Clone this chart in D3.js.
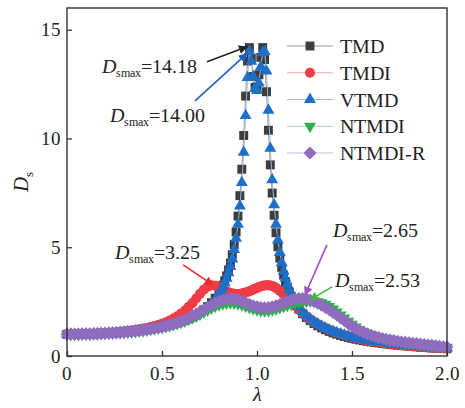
<!DOCTYPE html>
<html>
<head>
<meta charset="utf-8">
<script src="https://cdn.jsdelivr.net/npm/d3@7"></script>
<style>
  @font-face { font-family: 'ChartSerif'; src: local('Liberation Serif'), local('LiberationSerif'), local('Times New Roman'); font-display: swap; }
  @font-face { font-family: 'ChartSerif'; font-style: italic; src: local('Liberation Serif Italic'), local('LiberationSerif-Italic'); font-display: swap; }
  body { margin: 0; background: #fff; }
</style>
</head>
<body>
<svg id="chart" width="465" height="408"></svg>
<script>
// frequency ratio grids (fine grid near resonance)
var lamFine = [0,0.02,0.04,0.06,0.08,0.1,0.12,0.14,0.16,0.18,0.2,0.22,0.24,0.26,0.28,0.3,0.32,0.34,0.36,0.38,0.4,
  0.42,0.44,0.46,0.48,0.5,0.52,0.54,0.56,0.58,0.6,0.62,0.64,0.66,0.68,0.7,0.72,0.74,0.76,0.78,0.8,
  0.81,0.82,0.83,0.84,0.85,0.86,0.87,0.88,0.89,0.9,0.91,0.92,0.93,0.94,0.95,0.96,0.97,0.98,0.99,1.0,
  1.01,1.02,1.03,1.04,1.05,1.06,1.07,1.08,1.09,1.1,1.11,1.12,1.13,1.14,1.15,1.16,1.17,1.18,1.19,
  1.2,1.22,1.24,1.26,1.28,1.3,1.32,1.34,1.36,1.38,1.4,1.42,1.44,1.46,1.48,1.5,1.52,1.54,1.56,1.58,1.6,
  1.62,1.64,1.66,1.68,1.7,1.72,1.74,1.76,1.78,1.8,1.82,1.84,1.86,1.88,1.9,1.92,1.94,1.96,1.98,2.0];
var lamCoarse = [0,0.02,0.04,0.06,0.08,0.1,0.12,0.14,0.16,0.18,0.2,0.22,0.24,0.26,0.28,0.3,0.32,0.34,0.36,0.38,0.4,
  0.42,0.44,0.46,0.48,0.5,0.52,0.54,0.56,0.58,0.6,0.62,0.64,0.66,0.68,0.7,0.72,0.74,0.76,0.78,0.8,
  0.82,0.84,0.86,0.88,0.9,0.92,0.94,0.96,0.98,1.0,1.02,1.04,1.06,1.08,1.1,1.12,1.14,1.16,1.18,1.2,
  1.22,1.24,1.26,1.28,1.3,1.32,1.34,1.36,1.38,1.4,1.42,1.44,1.46,1.48,1.5,1.52,1.54,1.56,1.58,1.6,
  1.62,1.64,1.66,1.68,1.7,1.72,1.74,1.76,1.78,1.8,1.82,1.84,1.86,1.88,1.9,1.92,1.94,1.96,1.98,2.0];

var tmd = [1.000,1.000,1.002,1.004,1.007,1.010,1.015,1.021,1.027,1.035,1.043,1.052,1.063,1.074,1.087,1.101,1.117,1.134,1.152,1.172,1.194,
  1.218,1.245,1.274,1.306,1.340,1.378,1.420,1.467,1.519,1.577,1.641,1.713,1.795,1.888,1.999,2.123,2.270,2.446,2.658,2.920,
  3.075,3.251,3.452,3.684,3.954,4.274,4.657,5.123,5.701,6.431,7.371,8.589,10.14,11.95,13.56,14.18,13.69,12.85,12.35,12.37,
  12.93,13.73,14.18,13.63,12.15,10.38,8.787,7.491,6.471,5.667,5.025,4.506,4.079,3.722,3.420,3.162,2.938,2.743,2.571,
  2.418,2.159,1.947,1.771,1.623,1.496,1.387,1.292,1.208,1.132,1.062,1.003,0.947,0.898,0.853,0.811,0.773,0.738,0.706,0.676,0.648,
  0.622,0.597,0.575,0.553,0.533,0.514,0.497,0.480,0.464,0.449,0.435,0.421,0.408,0.396,0.384,0.373,0.363,0.353,0.343,0.335];
var tmdi = [1.000,1.000,1.002,1.004,1.008,1.012,1.017,1.024,1.032,1.041,1.051,1.063,1.076,1.091,1.107,1.126,1.147,1.170,1.196,1.224,1.255,
  1.290,1.330,1.377,1.428,1.486,1.549,1.627,1.718,1.820,1.946,2.090,2.260,2.430,2.647,2.858,3.049,3.188,3.249,3.230,3.155,
  3.110,3.060,3.010,2.966,2.930,2.900,2.875,2.857,2.850,2.848,2.853,2.867,2.890,2.920,2.945,2.975,3.010,3.050,3.090,3.130,
  3.165,3.199,3.225,3.244,3.252,3.253,3.240,3.216,3.180,3.130,3.070,3.001,2.920,2.841,2.750,2.662,2.570,2.478,2.390,
  2.297,2.130,1.970,1.820,1.690,1.571,1.470,1.370,1.280,1.200,1.131,1.070,1.010,0.955,0.905,0.860,0.818,0.780,0.745,0.712,0.682,
  0.654,0.628,0.603,0.580,0.558,0.537,0.518,0.500,0.483,0.467,0.452,0.437,0.424,0.411,0.398,0.387,0.376,0.365,0.355,0.345];
var vtmd = [1.000,1.000,1.002,1.004,1.007,1.010,1.015,1.021,1.027,1.035,1.043,1.052,1.063,1.074,1.087,1.101,1.117,1.134,1.152,1.172,1.194,
  1.218,1.245,1.274,1.306,1.340,1.378,1.420,1.467,1.519,1.577,1.641,1.713,1.780,1.865,1.970,2.090,2.230,2.400,2.600,2.850,
  3.00,3.16,3.35,3.57,3.82,4.11,4.46,4.89,5.41,6.06,6.90,7.97,9.36,11.05,12.80,14.00,13.55,12.85,12.30,12.20,
  12.55,13.30,13.95,14.00,13.10,11.30,9.55,8.10,6.95,6.05,5.33,4.76,4.29,3.90,3.57,3.29,3.05,2.85,2.67,
  2.51,2.25,2.04,1.86,1.71,1.58,1.47,1.37,1.28,1.20,1.13,1.07,1.01,0.96,0.91,0.865,0.825,0.79,0.755,0.725,0.695,
  0.665,0.64,0.615,0.59,0.57,0.55,0.53,0.51,0.495,0.48,0.465,0.45,0.435,0.42,0.41,0.40,0.39,0.38,0.37,0.36];
var ntmdi = [0.99,0.99,0.99,0.99,1.00,1.00,1.00,1.01,1.01,1.02,1.03,1.04,1.05,1.06,1.07,1.08,1.09,1.10,1.12,1.14,1.16,
  1.19,1.22,1.25,1.28,1.31,1.35,1.39,1.44,1.49,1.55,1.61,1.68,1.76,1.84,1.93,2.02,2.11,2.20,2.28,2.35,
  2.40,2.43,2.44,2.43,2.40,2.35,2.29,2.23,2.17,2.12,2.09,2.08,2.09,2.12,2.16,2.22,2.28,2.33,2.38,2.43,
  2.46,2.49,2.51,2.53,2.53,2.50,2.45,2.38,2.28,2.16,2.03,1.89,1.75,1.60,1.46,1.33,1.22,1.13,1.05,0.98,
  0.92,0.86,0.81,0.77,0.73,0.70,0.67,0.64,0.62,0.60,0.58,0.56,0.54,0.52,0.50,0.48,0.46,0.44,0.42,0.40];
var ntmdiR = [1.00,1.00,1.00,1.00,1.01,1.01,1.01,1.02,1.02,1.03,1.04,1.05,1.06,1.07,1.08,1.09,1.11,1.12,1.14,1.16,1.18,
  1.21,1.24,1.27,1.30,1.34,1.38,1.43,1.48,1.54,1.60,1.67,1.75,1.84,1.93,2.03,2.13,2.24,2.34,2.44,2.52,
  2.58,2.62,2.63,2.62,2.58,2.52,2.45,2.38,2.31,2.26,2.23,2.22,2.23,2.26,2.31,2.37,2.44,2.51,2.57,2.62,
  2.65,2.65,2.62,2.57,2.50,2.42,2.33,2.23,2.12,2.00,1.88,1.75,1.62,1.49,1.37,1.26,1.17,1.09,1.02,0.96,
  0.90,0.85,0.81,0.77,0.74,0.71,0.68,0.65,0.63,0.61,0.59,0.57,0.55,0.53,0.51,0.49,0.47,0.45,0.43,0.41];

var seriesNames = ['TMD', 'TMDI', 'VTMD', 'NTMDI', 'NTMDI-R'];
var xTicks = [0, 0.5, 1.0, 1.5, 2.0];
var xTickLabels = ['0', '0.5', '1.0', '1.5', '2.0'];
var yTicks = [0, 5, 10, 15];

// peak annotations: label, text position, arrow tail -> head (data units)
var annLabels = ['14.18', '14.00', '3.25', '2.65', '2.53'];
var annTextAt = [[0.184, 13.02], [0.226, 10.77], [0.253, 4.44], [1.40, 5.45], [1.41, 3.15]];
var annFrom = [[0.737, 13.53], [0.674, 11.73], [0.611, 4.19], [1.368, 5.11], [1.395, 3.18]];
var annTo = [[0.947, 14.22], [0.947, 13.90], [0.768, 3.27], [1.253, 2.81], [1.279, 2.58]];

var FONT = "'ChartSerif', 'Liberation Serif'";
var svg = d3.select('#chart');
var x = d3.scaleLinear().domain([0, 2]).range([67, 447]);
var y = d3.scaleLinear().domain([0, 16]).range([356, 8]);

function serifText(parent, px, py, size) {
  return parent.append('text')
    .attr('x', px).attr('y', py)
    .attr('font-size', size)
    .style('font-family', FONT)
    .attr('fill', '#222');
}

// tick labels and axis titles
xTicks.forEach(function (t, i) {
  serifText(svg, x(t), y(0) + 24, 19).attr('text-anchor', 'middle').text(xTickLabels[i]);
});
yTicks.forEach(function (t) {
  serifText(svg, x(0) - 6, y(t) + 6.5, 19).attr('text-anchor', 'end').text(t);
});
svg.append('text')
  .attr('transform', 'translate(28,192) rotate(-90)')
  .attr('font-size', 21).style('font-family', FONT).attr('fill', '#222')
  .html('<tspan font-style="italic">D</tspan><tspan font-size="13" dy="5">s</tspan>');
serifText(svg, x(1), 401, 20).attr('text-anchor', 'middle').attr('font-style', 'italic').text('λ');

var styles = [
  {color: '#3d3d3d', line: '#9a9a9a', shape: d3.symbolSquare, size: 80, rot: 0},
  {color: '#f03c46', line: '#f5a3a6', shape: d3.symbolCircle, size: 80, rot: 0},
  {color: '#1f6fc8', line: '#9db5de', shape: d3.symbolTriangle, size: 62, rot: 0},
  {color: '#2fae4f', line: '#9fd8a8', shape: d3.symbolTriangle, size: 62, rot: 180},
  {color: '#8e6cbf', line: '#c9b8e0', shape: d3.symbolSquare, size: 84, rot: 45}
];
var data = [
  {lam: lamFine, val: tmd},
  {lam: lamFine, val: tmdi},
  {lam: lamFine, val: vtmd},
  {lam: lamCoarse, val: ntmdi},
  {lam: lamCoarse, val: ntmdiR}
];

var line = d3.line().x(function (d) { return x(d[0]); }).y(function (d) { return y(d[1]); });
var plot = svg.append('g');

data.forEach(function (s, k) {
  var st = styles[k];
  var pts = s.lam.map(function (l, i) { return [l, s.val[i]]; });
  var g = plot.append('g');
  g.append('path').datum(pts)
    .attr('d', line)
    .attr('fill', 'none')
    .attr('stroke', st.line)
    .attr('stroke-width', 1);
  g.selectAll('path.m').data(pts).enter().append('path')
    .attr('class', 'm')
    .attr('d', d3.symbol().type(st.shape).size(st.size))
    .attr('transform', function (d) {
      return 'translate(' + x(d[0]) + ',' + y(d[1]) + ') rotate(' + st.rot + ')';
    })
    .attr('fill', st.color);
});

// frame + inward ticks
svg.append('rect')
  .attr('x', x(0)).attr('y', y(16))
  .attr('width', x(2) - x(0)).attr('height', y(0) - y(16))
  .attr('fill', 'none').attr('stroke', '#333').attr('stroke-width', 1.4);
var xAxis = svg.append('g').attr('transform', 'translate(0,' + y(0) + ')')
  .call(d3.axisBottom(x).tickValues(xTicks).tickFormat('').tickSizeInner(-5).tickSizeOuter(0));
var yAxis = svg.append('g').attr('transform', 'translate(' + x(0) + ',0)')
  .call(d3.axisLeft(y).tickValues(yTicks).tickFormat('').tickSizeInner(-5).tickSizeOuter(0));
[xAxis, yAxis].forEach(function (a) {
  a.select('.domain').remove();
  a.selectAll('text').remove();
  a.selectAll('line').attr('stroke', '#333').attr('stroke-width', 1.3);
});

// legend
var legY = d3.scaleLinear().domain([0, 4]).range([46, 153]);
var leg = svg.append('g');
seriesNames.forEach(function (name, k) {
  var st = styles[k];
  var yy = legY(k);
  leg.append('line').attr('x1', 287).attr('x2', 333).attr('y1', yy).attr('y2', yy)
    .attr('stroke', st.line).attr('stroke-width', 1.2);
  leg.append('path')
    .attr('d', d3.symbol().type(st.shape).size(st.size))
    .attr('transform', 'translate(310,' + yy + ') rotate(' + st.rot + ')')
    .attr('fill', st.color);
  serifText(leg, 340, yy + 7, 20).text(name);
});

// peak annotations
var annColors = ['#222222', '#1f5fbf', '#ee2a2a', '#a64dc8', '#3cb83c'];
var defs = svg.append('defs');
annColors.forEach(function (c, i) {
  defs.append('marker').attr('id', 'ah' + i)
    .attr('viewBox', '0 0 10 10').attr('refX', 9).attr('refY', 5)
    .attr('markerWidth', 9).attr('markerHeight', 9).attr('markerUnits', 'userSpaceOnUse')
    .attr('orient', 'auto')
    .append('path').attr('d', 'M0,0L10,5L0,10Z').attr('fill', c);
});
annLabels.forEach(function (lab, i) {
  svg.append('line')
    .attr('x1', x(annFrom[i][0])).attr('y1', y(annFrom[i][1]))
    .attr('x2', x(annTo[i][0])).attr('y2', y(annTo[i][1]))
    .attr('stroke', annColors[i]).attr('stroke-width', 1.6)
    .attr('marker-end', 'url(#ah' + i + ')');
  serifText(svg, x(annTextAt[i][0]), y(annTextAt[i][1]), 20)
    .html('<tspan font-style="italic">D</tspan><tspan font-size="12" dy="4">smax</tspan><tspan dy="-4">=' + lab + '</tspan>');
});
</script>
</body>
</html>
